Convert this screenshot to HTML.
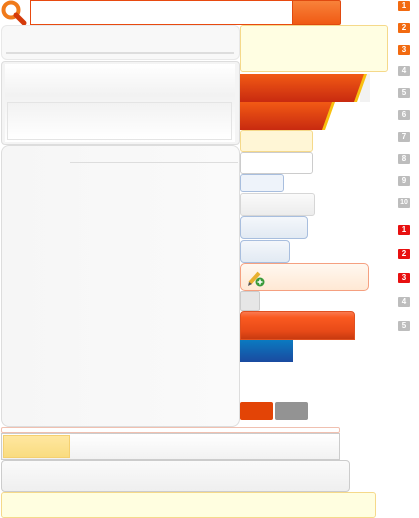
<!DOCTYPE html>
<html><head><meta charset="utf-8"><style>
html,body{margin:0;padding:0;width:419px;height:518px;background:#fff;overflow:hidden;font-family:"Liberation Sans",sans-serif}
div{position:absolute;box-sizing:border-box}
.b{width:12px;height:10px;border-radius:1px;color:#fff;font-size:8px;font-weight:bold;line-height:10px;text-align:center;left:398px}
.o{background:#f26a10}.g{background:#bdbdbd}.r{background:#e81010}
</style></head><body>
<svg style="position:absolute;left:0;top:0" width="28" height="26">
<circle cx="11" cy="10" r="7.5" fill="none" stroke="#f07a1a" stroke-width="4"/>
<line x1="16" y1="15" x2="24" y2="23" stroke="#d43a0a" stroke-width="5" stroke-linecap="round"/></svg>
<div style="left:30px;top:0;width:263px;height:25px;border:1.5px solid #e84a10;background:#fff"></div>
<div style="left:292px;top:0;width:49px;height:25px;background:linear-gradient(#f8823a,#f05a14);border:1px solid #e04a10;border-radius:0 2px 2px 0"></div>

<div style="left:1px;top:25px;width:239px;height:35px;background:#f8f8f8;border:1px solid #e8e8e8;border-radius:6px"></div>
<div style="left:6px;top:52px;width:228px;height:2px;background:#ddd"></div>
<div style="left:1px;top:61px;width:239px;height:84px;background:#f4f4f4;border:1px solid #ddd;border-radius:4px"></div>
<div style="left:5px;top:64px;width:230px;height:78px;background:linear-gradient(#fff,#f2f2f2 40%,#fff)"></div>
<div style="left:7px;top:102px;width:225px;height:38px;border:1px solid #e4e4e4;background:linear-gradient(#f2f2f2,#fff)"></div>

<div style="left:1px;top:145px;width:239px;height:282px;background:linear-gradient(90deg,#f6f6f6,#fafafa);border:1px solid #ddd;border-radius:8px"></div>
<div style="left:70px;top:162px;width:168px;height:1px;background:#ddd"></div>

<div style="left:240px;top:25px;width:148px;height:47px;background:#fffee2;border:1px solid #f5d98a;border-radius:3px"></div>
<svg style="position:absolute;left:240px;top:74px" width="130" height="28">
<defs><linearGradient id="rg" x1="0" y1="0" x2="0" y2="1"><stop offset="0" stop-color="#f25a14"/><stop offset="1" stop-color="#c82a10"/></linearGradient></defs>
<rect x="120" y="0" width="10" height="28" fill="#f2f2f2"/>
<polygon points="0,0 127,0 117,28 0,28" fill="#f9c010"/><polygon points="0,0 124,0 114,28 0,28" fill="url(#rg)"/></svg>
<svg style="position:absolute;left:240px;top:102px" width="96" height="28">
<polygon points="0,0 95,0 85,28 0,28" fill="#f9c010"/><polygon points="0,0 92,0 82,28 0,28" fill="url(#rg)"/></svg>
<div style="left:240px;top:130px;width:73px;height:22px;background:#fff6d6;border:1px solid #f5d98a;border-radius:3px"></div>
<div style="left:240px;top:152px;width:73px;height:22px;background:#fff;border:1px solid #ccc;border-radius:3px"></div>
<div style="left:240px;top:174px;width:44px;height:18px;background:#eef3fa;border:1px solid #a8bede;border-radius:3px"></div>
<div style="left:240px;top:193px;width:75px;height:23px;background:linear-gradient(#fafafa,#ececec);border:1px solid #d6d6d6;border-radius:3px"></div>
<div style="left:240px;top:216px;width:68px;height:23px;background:linear-gradient(#f4f7fb,#e2eaf3);border:1px solid #a8bede;border-radius:4px"></div>
<div style="left:240px;top:240px;width:50px;height:23px;background:linear-gradient(#f4f7fb,#e2eaf3);border:1px solid #a8bede;border-radius:4px"></div>
<div style="left:240px;top:263px;width:129px;height:28px;background:linear-gradient(#fff8f0,#ffe8d4);border:1px solid #f5a080;border-radius:5px"></div>
<svg style="position:absolute;left:247px;top:269px" width="18" height="18">
<line x1="3" y1="14" x2="12" y2="4" stroke="#e8b030" stroke-width="4"/><polygon points="1,17 2,13 5,15" fill="#555"/>
<circle cx="13" cy="13" r="4.5" fill="#3a9a3a"/><path d="M13 10.5v5M10.5 13h5" stroke="#fff" stroke-width="1.5"/></svg>
<div style="left:240px;top:291px;width:20px;height:20px;background:#e6e6e6;border:1px solid #ccc;border-radius:2px"></div>
<div style="left:240px;top:311px;width:115px;height:29px;background:linear-gradient(#fa7a50 0,#fa5a20 20%,#e84a18 70%,#c83a10);border:1px solid #e05020;border-radius:4px 4px 0 0"></div>
<div style="left:240px;top:340px;width:53px;height:22px;background:linear-gradient(#0a7ac0,#1a4aa0)"></div>
<div style="left:240px;top:402px;width:33px;height:18px;background:#e34406;border-radius:2px"></div>
<div style="left:275px;top:402px;width:33px;height:18px;background:#939393;border-radius:2px"></div>

<div style="left:1px;top:427px;width:339px;height:6px;border:1px solid #f0c0b0;border-radius:2px"></div>
<div style="left:1px;top:433px;width:339px;height:27px;background:linear-gradient(#fff,#f2f2f2);border:1px solid #ccc"></div>
<div style="left:3px;top:435px;width:67px;height:23px;background:linear-gradient(#ffe7a0,#f9dc80);border:1px solid #f5d070"></div>
<div style="left:1px;top:460px;width:349px;height:32px;background:linear-gradient(#fafafa,#efefef);border:1px solid #ccc;border-radius:4px"></div>
<div style="left:1px;top:492px;width:375px;height:26px;background:#fffee0;border:1px solid #f5d98a;border-radius:3px"></div>

<div class="b o" style="top:1px">1</div>
<div class="b o" style="top:23px">2</div>
<div class="b o" style="top:45px">3</div>
<div class="b g" style="top:66px">4</div>
<div class="b g" style="top:88px">5</div>
<div class="b g" style="top:110px">6</div>
<div class="b g" style="top:132px">7</div>
<div class="b g" style="top:154px">8</div>
<div class="b g" style="top:176px">9</div>
<div class="b g" style="top:198px;font-size:7px">10</div>
<div class="b r" style="top:225px">1</div>
<div class="b r" style="top:249px">2</div>
<div class="b r" style="top:273px">3</div>
<div class="b g" style="top:297px">4</div>
<div class="b g" style="top:321px">5</div>
</body></html>
